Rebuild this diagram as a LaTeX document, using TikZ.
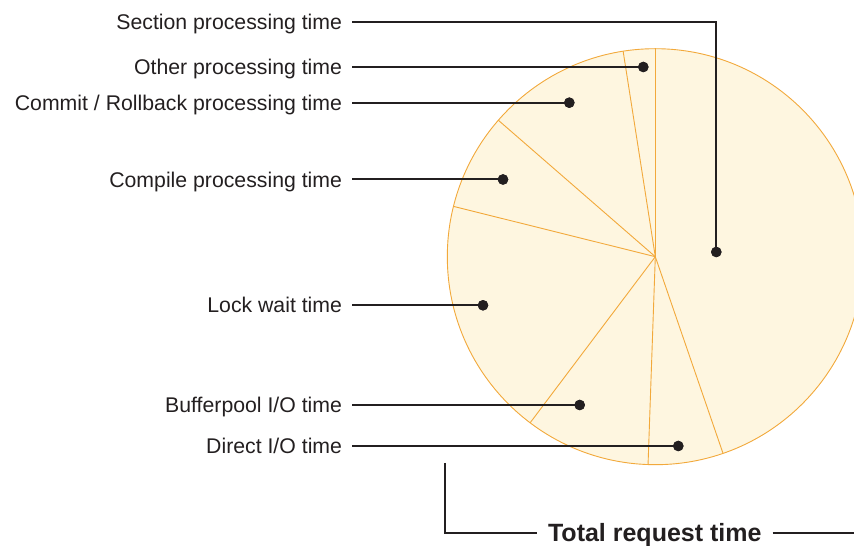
\documentclass[tikz,border=0pt]{standalone}
\usepackage{fontspec}
\setmainfont{Liberation Sans}
\definecolor{piefill}{HTML}{FEF6E0}
\definecolor{pieedge}{HTML}{F2A93B}
\definecolor{ink}{HTML}{231F20}
\begin{document}
\begin{tikzpicture}[x=1pt,y=1pt,
  label/.style={anchor=east,inner sep=0pt,outer xsep=10pt,text height=15.2pt,text depth=0pt,
    text=ink,font=\fontsize{21.25}{25}\selectfont},
  dot/.style={circle,fill=ink,inner sep=0pt,minimum size=10.5pt},
  conn/.style={draw=ink,line width=2pt},
  slice/.style={draw=pieedge,line width=0.9pt}]
\useasboundingbox (0,0) rectangle (854,546);
\clip (0,0) rectangle (854,546);

% pie chart
\coordinate (c) at (655.3,289.3);
\fill[piefill] (c) circle[radius=208];
\draw[slice] (c) circle[radius=208];
\foreach \a in {90,98.9,139,166,233,268,289}
  \draw[slice] (c) -- ++(\a:208);

% labels
\node[label] (lsec) at (352,524) {Section processing time};
\node[label] (loth) at (352,479) {Other processing time};
\node[label] (lcom) at (352,443.3) {Commit / Rollback processing time};
\node[label] (lcmp) at (352,366.5) {Compile processing time};
\node[label] (lloc) at (352,240.7) {Lock wait time};
\node[label] (lbuf) at (352,141) {Bufferpool I/O time};
\node[label] (ldir) at (352,100) {Direct I/O time};

% connector end points
\node[dot] (dsec) at (716.3,294) {};
\node[dot] (doth) at (643.3,479) {};
\node[dot] (dcom) at (569.3,443.3) {};
\node[dot] (dcmp) at (503,366.5) {};
\node[dot] (dloc) at (483,240.7) {};
\node[dot] (dbuf) at (579.7,141) {};
\node[dot] (ddir) at (678.3,100) {};

\draw[conn] (lsec.east) -| (dsec.center);
\draw[conn] (loth.east) -- (doth.center);
\draw[conn] (lcom.east) -- (dcom.center);
\draw[conn] (lcmp.east) -- (dcmp.center);
\draw[conn] (lloc.east) -- (dloc.center);
\draw[conn] (lbuf.east) -- (dbuf.center);
\draw[conn] (ldir.east) -- (ddir.center);
% redraw dots above the connectors
\foreach \d in {dsec,doth,dcom,dcmp,dloc,dbuf,ddir}
  \fill[ink] (\d.center) circle[radius=5.25];

% total bracket
\node[anchor=center,inner sep=0pt,outer xsep=11pt,text height=17.9pt,text depth=0pt,
  text=ink,font=\fontsize{25}{30}\selectfont\bfseries] (total) at (654.8,13.3) {Total request time};
\coordinate (tstart) at (445,83);
\coordinate (tend) at (860,13.3);
\draw[conn] (tstart) |- (total.west);
\draw[conn] (total.east) -- (tend);
\end{tikzpicture}
\end{document}
